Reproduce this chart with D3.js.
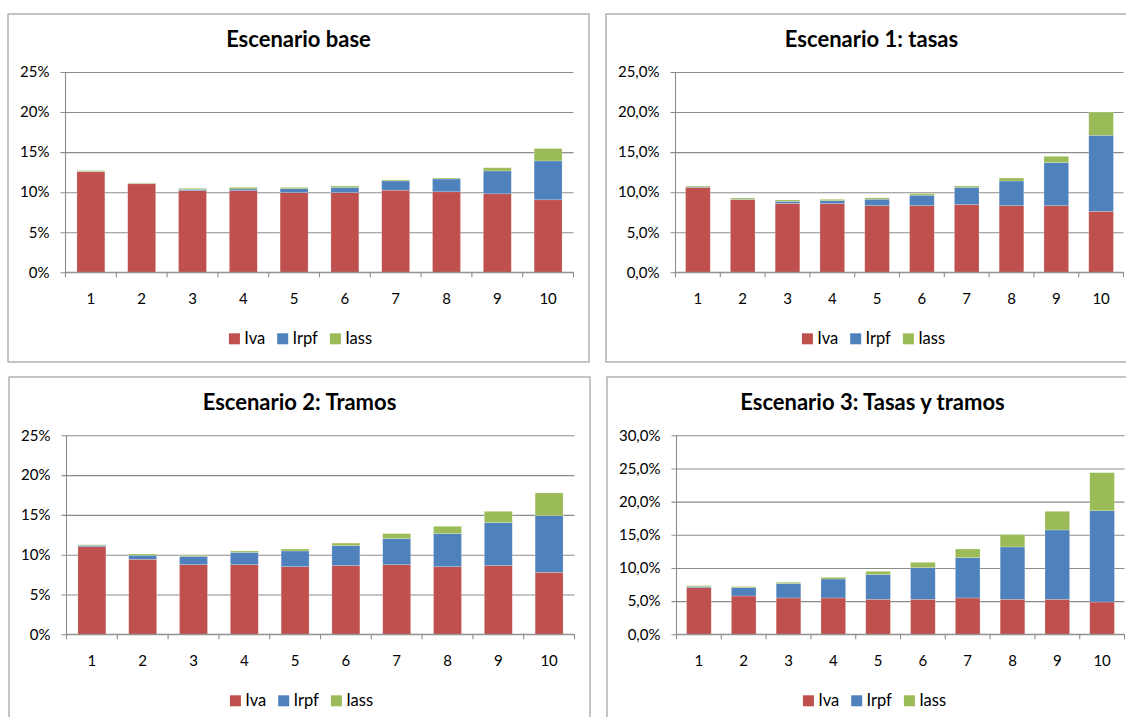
<!DOCTYPE html>
<html><head><meta charset="utf-8">
<script src="https://cdn.jsdelivr.net/npm/d3@7"></script>
<style>
html,body{margin:0;padding:0;background:#fff;}
svg{display:block;font-family:Lato,"Open Sans",sans-serif;}
</style></head>
<body>
<svg id="chart" width="1126" height="717"></svg>
<script>
// ---- data ----
const deciles = ["1","2","3","4","5","6","7","8","9","10"];
const seriesNames = ["Iva","Irpf","Iass"];
const seriesColors = ["#C0504D","#4F81BD","#9BBB59"];

const titles = ["Escenario base","Escenario 1: tasas","Escenario 2: Tramos","Escenario 3: Tasas y tramos"];

const baseIva  = [12.55,11.05,10.20,10.20, 9.95, 9.95,10.25,10.05, 9.80, 9.05];
const baseIrpf = [ 0.05, 0.03, 0.15, 0.20, 0.50, 0.65, 1.15, 1.60, 2.85, 4.85];
const baseIass = [ 0.10, 0.07, 0.13, 0.20, 0.15, 0.17, 0.12, 0.12, 0.40, 1.55];

const esc1Iva  = [10.60, 9.07, 8.60, 8.57, 8.32, 8.32, 8.45, 8.32, 8.32, 7.60];
const esc1Irpf = [ 0.05, 0.05, 0.25, 0.37, 0.80, 1.30, 2.15, 3.08, 5.37, 9.50];
const esc1Iass = [ 0.12, 0.15, 0.17, 0.17, 0.17, 0.20, 0.17, 0.37, 0.79, 2.90];

const esc2Iva  = [11.00, 9.42, 8.75, 8.75, 8.50, 8.63, 8.75, 8.50, 8.63, 7.79];
const esc2Irpf = [ 0.17, 0.50, 1.05, 1.55, 1.97, 2.50, 3.27, 4.15, 5.40, 7.12];
const esc2Iass = [ 0.08, 0.17, 0.12, 0.17, 0.25, 0.33, 0.63, 0.92, 1.42, 2.85];

const esc3Iva  = [ 7.04, 5.78, 5.48, 5.48, 5.28, 5.28, 5.48, 5.28, 5.28, 4.87];
const esc3Irpf = [ 0.15, 1.26, 2.16, 2.86, 3.72, 4.77, 6.08, 7.89,10.45,13.77];
const esc3Iass = [ 0.15, 0.15, 0.20, 0.25, 0.50, 0.80, 1.30, 1.86, 2.81, 5.73];

const yTicksA = [0,5,10,15,20,25];
const yTicksB = [0,5,10,15,20,25,30];

// ---- layout ----
const esLocale = d3.formatLocale({decimal:",",thousands:".",grouping:[3],currency:["","€"]});
const fmt0 = v => v + "%";
const fmt1 = v => esLocale.format(".1f")(v) + "%";

const panels = [
  {title:titles[0], data:[baseIva,baseIrpf,baseIass], ticks:yTicksA, fmt:fmt0,
   box:{x:8,y:14,w:581,h:348}, plot:{x:65.5,y:72,w:508,h:200.3}},
  {title:titles[1], data:[esc1Iva,esc1Irpf,esc1Iass], ticks:yTicksA, fmt:fmt1,
   box:{x:606,y:14,w:531,h:348}, plot:{x:675.5,y:72,w:448,h:200.3}},
  {title:titles[2], data:[esc2Iva,esc2Irpf,esc2Iass], ticks:yTicksA, fmt:fmt0,
   box:{x:9,y:377,w:581,h:360}, plot:{x:66.5,y:435.3,w:508,h:199}},
  {title:titles[3], data:[esc3Iva,esc3Irpf,esc3Iass], ticks:yTicksB, fmt:fmt1,
   box:{x:607,y:377,w:531,h:360}, plot:{x:676.5,y:435.3,w:448,h:199}}
];

const svg = d3.select("#chart");

panels.forEach(p => {
  const g = svg.append("g");
  // frame
  g.append("rect").attr("x",p.box.x).attr("y",p.box.y).attr("width",p.box.w).attr("height",p.box.h)
    .attr("fill","#fff").attr("stroke","#a6a6a6").attr("stroke-width",1.3);

  const cx = p.box.x + p.box.w/2;
  g.append("text").attr("x",cx).attr("y",p.box.y+33).attr("text-anchor","middle")
    .attr("font-size",22).attr("font-weight","bold").attr("fill","#000").text(p.title);

  const x = d3.scaleBand().domain(deciles).range([p.plot.x, p.plot.x+p.plot.w]).paddingInner(0.45).paddingOuter(0.225);
  const xb = d3.scaleBand().domain(deciles).range([p.plot.x, p.plot.x+p.plot.w]);
  const yMax = p.ticks[p.ticks.length-1];
  const y = d3.scaleLinear().domain([0,yMax]).range([p.plot.y+p.plot.h, p.plot.y]);

  // gridlines + y axis ticks
  const yAxis = d3.axisLeft(y).tickValues(p.ticks).tickFormat(p.fmt).tickSize(-(p.plot.w+5)).tickSizeOuter(0).tickPadding(11);
  const ya = g.append("g").attr("transform",`translate(${p.plot.x-5},0)`).call(yAxis);
  ya.select(".domain").remove();
  ya.selectAll(".tick line").attr("stroke","#8c8c8c").attr("stroke-width",1.1);
  ya.selectAll(".tick text").attr("font-size",15).attr("fill","#000").attr("font-family","Lato,sans-serif");

  // vertical axis line
  g.append("line").attr("x1",p.plot.x).attr("x2",p.plot.x).attr("y1",p.plot.y).attr("y2",p.plot.y+p.plot.h)
    .attr("stroke","#8c8c8c").attr("stroke-width",1.1);

  // stacked bars
  const stackData = deciles.map((d,i) => ({cat:d, Iva:p.data[0][i], Irpf:p.data[1][i], Iass:p.data[2][i]}));
  const stacked = d3.stack().keys(seriesNames)(stackData);
  stacked.forEach((layer,si) => {
    g.append("g").selectAll("rect").data(layer).join("rect")
      .attr("x", d => x(d.data.cat))
      .attr("width", x.bandwidth())
      .attr("y", d => y(d[1]))
      .attr("height", d => Math.max(0, y(d[0]) - y(d[1])))
      .attr("fill", seriesColors[si])
      .attr("stroke","rgba(255,255,255,0.35)").attr("stroke-width",0.6);
  });

  // x axis
  const xAxisG = g.append("g").attr("transform",`translate(0,${p.plot.y+p.plot.h})`);
  xAxisG.append("line").attr("x1",p.plot.x).attr("x2",p.plot.x+p.plot.w).attr("stroke","#8c8c8c").attr("stroke-width",1.1);
  const bounds = deciles.map(d => xb(d)).concat([p.plot.x+p.plot.w]);
  xAxisG.selectAll("line.tk").data(bounds).join("line").attr("class","tk")
    .attr("x1",d=>d).attr("x2",d=>d).attr("y1",0).attr("y2",5).attr("stroke","#8c8c8c").attr("stroke-width",1.1);
  xAxisG.selectAll("text").data(deciles).join("text")
    .attr("x", d => xb(d) + xb.bandwidth()/2).attr("y",31.5).attr("text-anchor","middle")
    .attr("font-size",15).attr("fill","#000").text(d=>d);

  // legend
  const lg = g.append("g");
  const ly = p.plot.y + p.plot.h + 72;
  let cur = 0;
  seriesNames.forEach((s,i) => {
    const it = lg.append("g").attr("transform",`translate(${cur},0)`);
    it.append("rect").attr("x",0).attr("y",ly-11).attr("width",11).attr("height",11).attr("fill",seriesColors[i]);
    const t = it.append("text").attr("x",15.3).attr("y",ly).attr("font-size",16.5).attr("fill","#000").text(s);
    cur += 15.3 + t.node().getComputedTextLength() + 12;
  });
  const lw = cur - 12;
  lg.attr("transform",`translate(${cx + 2 - lw/2},0)`);
});
</script>
</body></html>
